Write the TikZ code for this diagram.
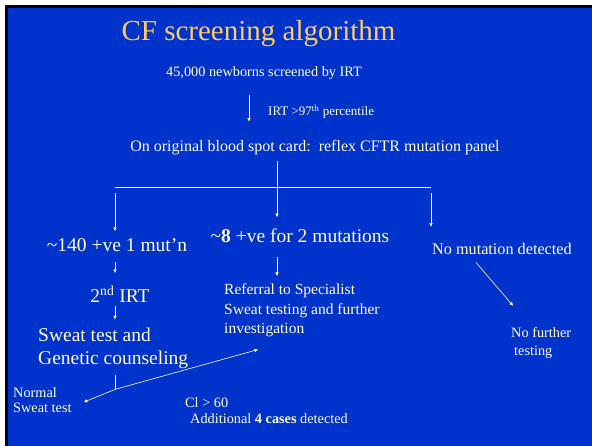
\documentclass[tikz,border=0pt]{standalone}
\usepackage{fontspec}
\setmainfont{Liberation Serif}
\usetikzlibrary{arrows.meta,calc}
\definecolor{slideBlue}{RGB}{0,51,204}
\definecolor{slideText}{RGB}{255,255,204}
\definecolor{slideTitle}{RGB}{255,204,102}
\definecolor{tipCol}{RGB}{255,255,120}

\begin{document}
\begin{tikzpicture}[
    x=1pt, y=-1pt,
    every node/.style={text=slideText, inner sep=0pt},
    ttl/.style={text=slideTitle, font=\fontsize{29}{34}\selectfont},
    bigtxt/.style={font=\fontsize{19.5}{23}\selectfont},
    midtxt/.style={font=\fontsize{15.5}{19.5}\selectfont},
    txt/.style={font=\fontsize{14.3}{16}\selectfont},
    smalltxt/.style={font=\fontsize{13}{15}\selectfont},
    flow/.style={draw=white!85!slideText, line width=0.6pt,
        -{Triangle[length=3.5pt,width=3.2pt,color=tipCol]}},
    bus/.style={draw=white, line width=0.8pt}
]
    % slide background with its frame
    \useasboundingbox (0,0) rectangle (592,446);
    \fill[white] (0,0) rectangle (592,446);
    \fill[black] (5,5) rectangle (592,446);
    \fill[slideBlue] (8,8) rectangle (592,446);

    % columns of the flow
    \coordinate (xa) at (249,0);
    \coordinate (xl) at (115,0);
    \coordinate (xm) at (277,0);
    \coordinate (xr) at (431,0);
    \coordinate (bus) at (0,187);

    \node[ttl, anchor=base] (title) at (258.5,41) {CF screening algorithm};
    \node[txt, anchor=base] (screened) at (264,77) {45,000 newborns screened by IRT};
    \node[smalltxt, anchor=base west] (irt) at (268,116) {IRT >97\textsuperscript{th} percentile};
    \node[txt, font=\fontsize{16}{18}\selectfont, anchor=base] (panel) at (315,152)
        {On original blood spot card:\ \ reflex CFTR mutation panel};

    \node[bigtxt, anchor=base] (one) at (117,252) {\textasciitilde140 +ve 1 mut’n};
    \node[bigtxt, anchor=base] (two) at (300,243) {\textasciitilde\textbf{8} +ve for 2 mutations};
    \node[midtxt, font=\fontsize{16.2}{19}\selectfont, anchor=base west] (none) at (432,255)
        {No mutation detected};

    % multi-line nodes sit on the baseline of their last line
    \node[bigtxt, anchor=base] (irt2) at (120,303) {2\textsuperscript{nd} IRT};
    \node[bigtxt, anchor=base west, align=left] (counsel) at (38,365)
        {Sweat test and\\Genetic counseling};
    \node[midtxt, anchor=base west, align=left] (refer) at (224,334)
        {Referral to Specialist\\Sweat testing and further\\investigation};
    \node[txt, anchor=base west, align=left] (nofurther) at (511,356)
        {No further\\[3pt]\hspace{3pt}testing};

    \node[txt, anchor=base west, align=left] (normal) at (13,413) {Normal\\Sweat test};
    \node[txt, anchor=base west, align=left] (extra) at (185,423)
        {Cl > 60\\\hspace{5pt}Additional \textbf{4 cases} detected};

    % screening steps
    \draw[flow, shorten <=15pt, shorten >=19pt] (screened.south -| xa) -- (panel.north -| xa);
    \draw[flow, shorten <=5pt, shorten >=12pt] (panel.south -| xm) -- (two.north -| xm);
    \draw[bus] (xl |- bus) -- (xr |- bus);
    \draw[flow, shorten <=6pt, shorten >=8pt] (xl |- bus) -- (one.north -| xl);
    \draw[flow, shorten <=6pt, shorten >=17pt] (xr |- bus) -- (none.north -| xr);

    % follow-up
    \draw[flow, shorten <=10pt, shorten >=13pt] (one.south -| xl) -- (irt2.north -| xl);
    \draw[flow, shorten <=14pt, shorten >=8pt] (two.south -| xm) -- (refer.north -| xm);
    \draw[flow, shorten <=3pt, shorten >=9pt] (irt2.south -| xl) -- (counsel.north -| xl);
    \draw[flow] ([xshift=-26pt,yshift=-7pt]none.south) -- ([xshift=2pt,yshift=21pt]nofurther.north west);

    % outcome of the sweat test
    \path (counsel.south -| xl) ++(0,20) coordinate (fork);
    \draw[bus, line width=0.6pt] (counsel.south -| xl) ++(0,6) -- (fork);
    \draw[flow] (fork) -- ([xshift=12pt,yshift=-2pt]normal.east);
    \draw[flow] (fork) -- ([xshift=34pt,yshift=-12pt]refer.south west);
\end{tikzpicture}
\end{document}
